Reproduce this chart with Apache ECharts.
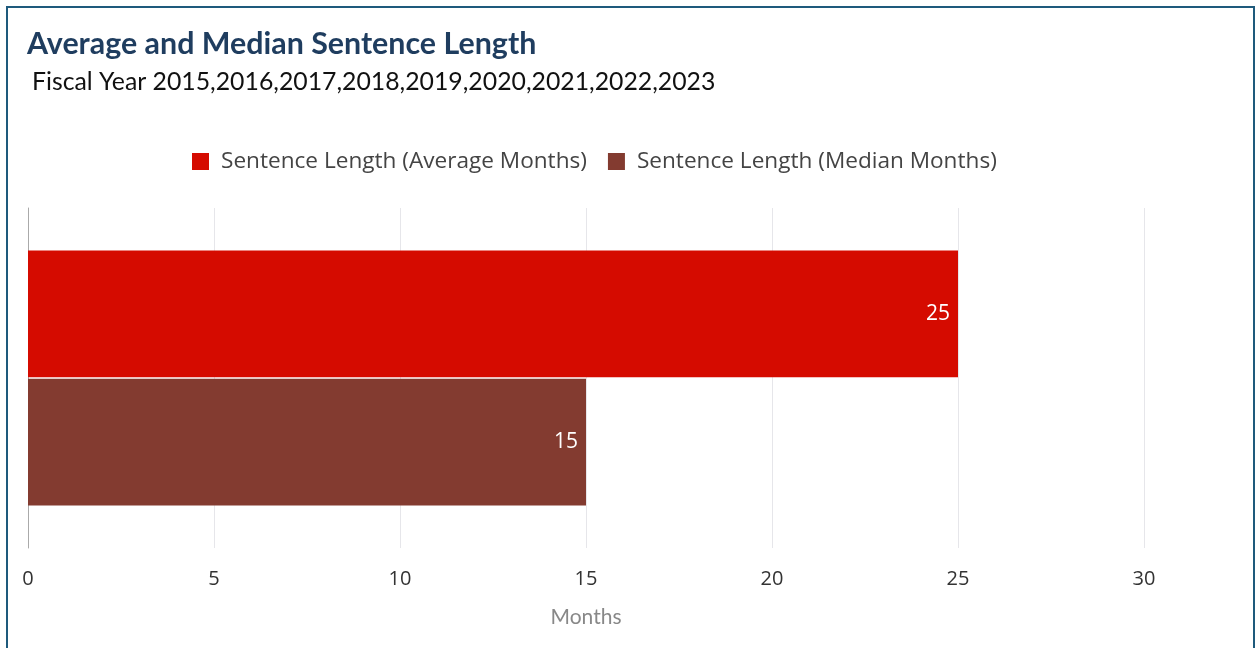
<!DOCTYPE html>
<html>
<head>
<meta charset="utf-8">
<script src="https://cdn.jsdelivr.net/npm/echarts@6/dist/echarts.min.js"></script>
<style>
html,body{margin:0;padding:0;background:#fff;overflow:hidden;}
#frame{position:absolute;left:6px;top:6px;width:1249px;height:700px;border:2px solid #1e5a7c;box-sizing:border-box;}
#chart{position:absolute;left:0;top:0;width:1257px;height:648px;}
</style>
</head>
<body>
<div id="frame"></div>
<div id="chart"></div>
<script>
const categories = ['Fiscal Year 2015-2023'];
const seriesNames = ['Sentence Length (Average Months)', 'Sentence Length (Median Months)'];
const averageMonths = [25];
const medianMonths = [15];
const xTicks = [0, 5, 10, 15, 20, 25, 30];

const chart = echarts.init(document.getElementById('chart'));
const valueLabel = {show: true, position: 'insideRight', distance: 8, color: '#fff', fontFamily: 'Open Sans', fontSize: 21};
chart.setOption({
  animation: false,
  title: [
    {
      text: 'Average and Median Sentence Length',
      left: 22, top: 24,
      textStyle: {fontFamily: 'Lato', fontWeight: 'bold', fontSize: 30.4, color: '#1f3d5f'}
    },
    {
      text: 'Fiscal Year 2015,2016,2017,2018,2019,2020,2021,2022,2023',
      left: 27, top: 65,
      textStyle: {fontFamily: 'Lato', fontWeight: 'normal', fontSize: 24.8, color: '#111'}
    }
  ],
  legend: {
    data: seriesNames,
    left: 187, top: 145,
    itemWidth: 17, itemHeight: 17,
    itemGap: 21,
    icon: 'rect',
    textStyle: {fontFamily: 'Open Sans', fontSize: 22.6, color: '#444', padding: [0, 0, 0, 7]}
  },
  grid: {left: 28, right: 113, top: 208, bottom: 100, containLabel: false},
  xAxis: {
    type: 'value',
    min: xTicks[0], max: xTicks[xTicks.length - 1], interval: 5,
    name: 'Months', nameLocation: 'middle', nameGap: 59,
    nameTextStyle: {fontFamily: 'Lato', fontSize: 21, color: '#888'},
    axisLine: {show: false},
    axisTick: {show: false},
    axisLabel: {fontFamily: 'Open Sans', fontSize: 20, color: '#333', margin: 21},
    splitLine: {show: true, lineStyle: {color: '#e6e6ea', width: 1}}
  },
  yAxis: {
    type: 'category',
    data: categories,
    axisLine: {show: true, lineStyle: {color: '#aaa'}},
    axisTick: {show: false},
    axisLabel: {show: false}
  },
  series: [
    {
      name: seriesNames[0], type: 'bar', data: averageMonths,
      itemStyle: {color: '#d50b00'},
      barCategoryGap: '25%', barGap: '1%',
      label: valueLabel
    },
    {
      name: seriesNames[1], type: 'bar', data: medianMonths,
      itemStyle: {color: '#833b30'},
      barCategoryGap: '25%', barGap: '1%',
      label: valueLabel
    }
  ]
});
</script>
</body>
</html>
